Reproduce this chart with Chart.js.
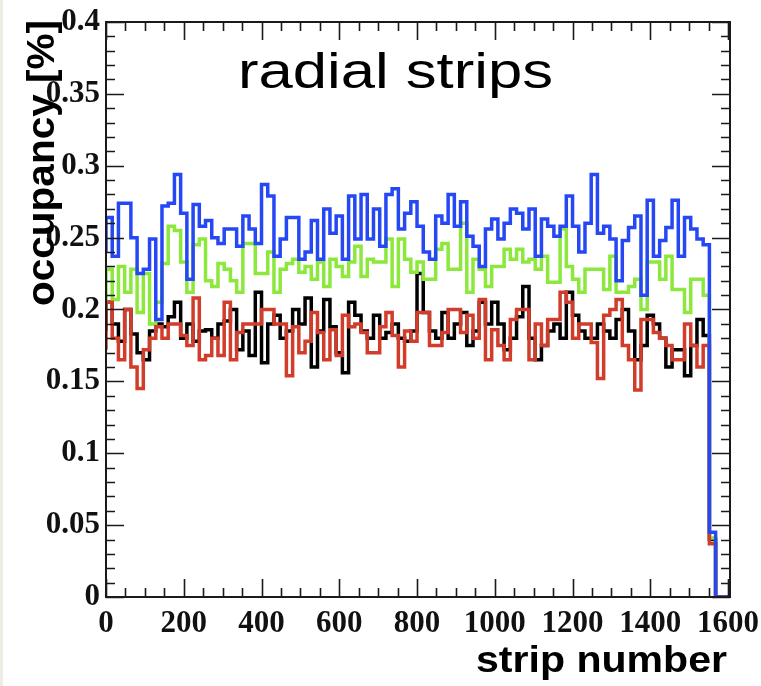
<!DOCTYPE html>
<html>
<head>
<meta charset="utf-8">
<script src="https://cdn.jsdelivr.net/npm/chart.js@4/dist/chart.umd.min.js"></script>
<style>
  html, body { margin: 0; padding: 0; background: #fff; }
  #wrap { position: relative; width: 761px; height: 686px; }
  #edge { position: absolute; left: 0; top: 0; width: 3px; height: 686px; background: #eeede5; }
</style>
</head>
<body>
<div id="wrap">
  <canvas id="occChart" width="761" height="686"></canvas>
  <div id="edge"></div>
</div>
<script>
// 100 bins of 16 strips (occupancy in %)
const stripsPerBin = 16;
const xTicks = [0, 200, 400, 600, 800, 1000, 1200, 1400, 1600];
const yTicks = [0, 0.05, 0.1, 0.15, 0.2, 0.25, 0.3, 0.35, 0.4];

const blueValues = [
  0.24, 0.264, 0.237, 0.274, 0.274, 0.25, 0.225, 0.228, 0.249, 0.193, 0.272, 0.274, 0.294, 0.267, 0.221, 0.273, 0.258,
  0.262, 0.25, 0.246, 0.256, 0.256, 0.244, 0.265, 0.256, 0.246, 0.287, 0.279, 0.237, 0.249, 0.264, 0.264, 0.235, 0.24,
  0.262, 0.235, 0.27, 0.253, 0.265, 0.235, 0.279, 0.249, 0.28, 0.249, 0.27, 0.244, 0.28, 0.284, 0.256, 0.267,
  0.275, 0.258, 0.24, 0.235, 0.265, 0.26, 0.28, 0.258, 0.275, 0.251, 0.244, 0.23, 0.256, 0.263, 0.249, 0.26, 0.27,
  0.267, 0.256, 0.27, 0.237, 0.263, 0.258, 0.251, 0.258, 0.279, 0.258, 0.24, 0.26, 0.294, 0.253, 0.258, 0.249, 0.22,
  0.248, 0.257, 0.265, 0.21, 0.276, 0.237, 0.248, 0.257, 0.276, 0.237, 0.264, 0.256, 0.249, 0.245,
  0.045, 0
];
const greenValues = [
  0.2, 0.228, 0.207, 0.23, 0.212, 0.228, 0.198, 0.225, 0.19, 0.205, 0.232, 0.258, 0.255, 0.233, 0.212, 0.245, 0.249,
  0.22, 0.216, 0.232, 0.228, 0.22, 0.212, 0.246, 0.246, 0.225, 0.225, 0.24, 0.212, 0.228, 0.232, 0.235, 0.226, 0.23,
  0.221, 0.233, 0.216, 0.235, 0.23, 0.223, 0.233, 0.244, 0.223, 0.235, 0.233, 0.233, 0.249, 0.216, 0.249, 0.235,
  0.226, 0.233, 0.221, 0.221, 0.242, 0.246, 0.228, 0.228, 0.26, 0.212, 0.235, 0.228, 0.216, 0.23, 0.23, 0.242, 0.235,
  0.242, 0.233, 0.235, 0.228, 0.237, 0.219, 0.219, 0.256, 0.23, 0.221, 0.212, 0.228, 0.228, 0.228, 0.214, 0.237, 0.212,
  0.212, 0.216, 0.221, 0.2, 0.233, 0.233, 0.221, 0.237, 0.214, 0.214, 0.198, 0.221, 0.221, 0.21,
  0.041, 0
];
const blackValues = [
  0.185, 0.205, 0.19, 0.178, 0.2, 0.183, 0.17, 0.165, 0.185, 0.19, 0.188, 0.195, 0.205, 0.18, 0.19, 0.178, 0.185,
  0.186, 0.18, 0.19, 0.192, 0.2, 0.172, 0.185, 0.168, 0.212, 0.163, 0.19, 0.196, 0.18, 0.185, 0.2, 0.19, 0.208,
  0.16, 0.185, 0.207, 0.188, 0.17, 0.156, 0.205, 0.196, 0.185, 0.18, 0.196, 0.18, 0.184, 0.19, 0.18, 0.178,
  0.185, 0.225, 0.198, 0.185, 0.18, 0.198, 0.18, 0.19, 0.198, 0.175, 0.185, 0.205, 0.19, 0.205, 0.19, 0.172, 0.18,
  0.195, 0.216, 0.18, 0.165, 0.175, 0.185, 0.19, 0.18, 0.212, 0.196, 0.185, 0.18, 0.18, 0.19, 0.185, 0.18, 0.193,
  0.2, 0.185, 0.165, 0.175, 0.196, 0.19, 0.18, 0.16, 0.172, 0.172, 0.154, 0.175, 0.193, 0.182,
  0.04, 0
];
const redValues = [
  0.172, 0.205, 0.18, 0.165, 0.2, 0.16, 0.145, 0.172, 0.18, 0.188, 0.18, 0.19, 0.19, 0.182, 0.175, 0.208, 0.165,
  0.168, 0.18, 0.168, 0.205, 0.165, 0.184, 0.19, 0.19, 0.19, 0.2, 0.2, 0.19, 0.19, 0.154, 0.188, 0.17, 0.178,
  0.198, 0.184, 0.165, 0.186, 0.168, 0.196, 0.188, 0.19, 0.184, 0.17, 0.17, 0.188, 0.198, 0.182, 0.16, 0.185,
  0.178, 0.198, 0.198, 0.175, 0.175, 0.184, 0.2, 0.2, 0.184, 0.196, 0.18, 0.207, 0.165, 0.186, 0.175, 0.165, 0.193,
  0.2, 0.2, 0.165, 0.19, 0.175, 0.193, 0.193, 0.212, 0.205, 0.18, 0.19, 0.19, 0.177, 0.152, 0.196, 0.2, 0.207,
  0.175, 0.165, 0.144, 0.193, 0.193, 0.184, 0.18, 0.175, 0.165, 0.165, 0.19, 0.175, 0.16, 0.175,
  0.037, 0
];

// histogram outline: one point per lower bin edge, plus the closing edge
function toSteps(values) {
  const pts = values.map((v, i) => ({ x: i * stripsPerBin, y: v }));
  pts.push({ x: values.length * stripsPerBin, y: values[values.length - 1] });
  return pts;
}

function fmt(v) {
  return String(parseFloat(v.toFixed(2)));
}

// frame, inward ticks on all four sides, and the ROOT-like texts
const rootFrame = {
  id: 'rootFrame',
  afterDraw(chart) {
    const { ctx, chartArea: a, scales } = chart;
    const xs = scales.x, ys = scales.y;
    ctx.save();
    ctx.strokeStyle = '#1a1a1a';
    ctx.lineWidth = 1.6;
    ctx.beginPath();
    for (let v = 0; v <= 0.4001; v += 0.01) {
      const y = Math.round(ys.getPixelForValue(v)) + 0.5;
      const major = Math.abs(v / 0.05 - Math.round(v / 0.05)) < 1e-6;
      const len = major ? 18 : 9;
      ctx.moveTo(a.left, y); ctx.lineTo(a.left + len, y);
      ctx.moveTo(a.right, y); ctx.lineTo(a.right - len, y);
    }
    for (let v = 0; v <= 1600; v += 50) {
      const x = Math.round(xs.getPixelForValue(v)) + 0.5;
      const len = v % 200 === 0 ? 18 : 9;
      ctx.moveTo(x, a.bottom); ctx.lineTo(x, a.bottom - len);
      ctx.moveTo(x, a.top); ctx.lineTo(x, a.top + len);
    }
    ctx.stroke();
    ctx.lineWidth = 2;
    ctx.strokeRect(a.left, a.top, a.right - a.left, a.bottom - a.top);

    ctx.fillStyle = '#000';
    ctx.textBaseline = 'alphabetic';
    // plot title
    drawStretched(ctx, 'radial strips', '50px "Liberation Sans"', 238, 88, 315, 0);
    // x title
    drawStretched(ctx, 'strip number', 'bold 37px "Liberation Sans"', 476, 672, 251, 0);
    // y title, rotated, top-aligned
    drawStretched(ctx, 'occupancy [%]', 'bold 38px "Liberation Sans"', 54, 306, 286, -Math.PI / 2);
    ctx.restore();
  }
};

function drawStretched(ctx, text, font, x, y, width, rot) {
  ctx.save();
  ctx.font = font;
  const w = ctx.measureText(text).width;
  ctx.translate(x, y);
  ctx.rotate(rot);
  ctx.scale(width / w, 1);
  ctx.textAlign = 'left';
  ctx.fillText(text, 0, 0);
  ctx.restore();
}

const ctx = document.getElementById('occChart').getContext('2d');
new Chart(ctx, {
  type: 'line',
  data: {
    datasets: [
      { label: 'black', data: toSteps(blackValues), borderColor: '#000000', order: 4 },
      { label: 'green', data: toSteps(greenValues), borderColor: '#8ce83c', order: 3 },
      { label: 'red', data: toSteps(redValues), borderColor: '#d23c2a', order: 2 },
      { label: 'blue', data: toSteps(blueValues), borderColor: '#2648f4', order: 1 }
    ]
  },
  options: {
    responsive: false,
    animation: false,
    events: [],
    datasets: {
      line: { stepped: 'after', borderWidth: 3.5, pointRadius: 0, fill: false, tension: 0 }
    },
    layout: { padding: { top: 22, right: 31, left: 0, bottom: 0 } },
    plugins: {
      legend: { display: false },
      tooltip: { enabled: false }
    },
    scales: {
      x: {
        type: 'linear',
        min: 0,
        max: 1605,
        grid: { display: false, drawTicks: false },
        border: { display: false },
        afterFit: (s) => {
          s.height = 89;
          s.paddingLeft = 0;
          s.paddingRight = 0;
        },
        afterBuildTicks: (s) => { s.ticks = xTicks.map(v => ({ value: v })); },
        ticks: {
          autoSkip: false,
          maxRotation: 0,
          padding: 8,
          color: '#111',
          font: { family: '"Liberation Serif"', weight: 'bold', size: 31 },
          callback: (v) => String(v)
        }
      },
      y: {
        min: 0,
        max: 0.4,
        grid: { display: false, drawTicks: false },
        border: { display: false },
        afterFit: (s) => {
          s.width = 106;
          s.paddingTop = 0;
          s.paddingBottom = 0;
        },
        afterBuildTicks: (s) => { s.ticks = yTicks.map(v => ({ value: v })); },
        ticks: {
          autoSkip: false,
          padding: 6,
          color: '#111',
          font: { family: '"Liberation Serif"', weight: 'bold', size: 31 },
          callback: (v) => fmt(v)
        }
      }
    }
  },
  plugins: [rootFrame]
});
</script>
</body>
</html>
